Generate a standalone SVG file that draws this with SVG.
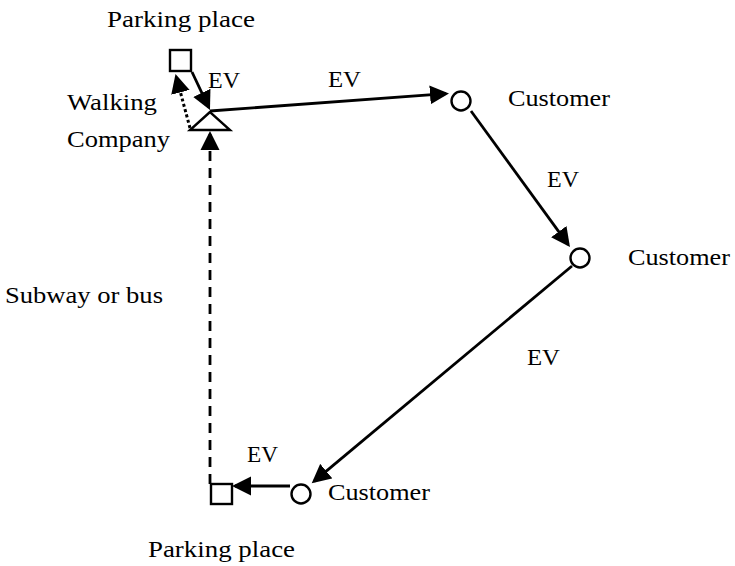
<svg xmlns="http://www.w3.org/2000/svg" width="735" height="566" viewBox="0 0 735 566">
<style>
  text { font-family: "Liberation Serif", "Times New Roman", serif; font-size: 24px; fill: #000; }
  .node { fill: #fff; stroke: #000; stroke-width: 2.4; }
  .edge { fill: none; stroke: #000; stroke-width: 2.8; }
  .dash { stroke-dasharray: 10 7; }
  .dot { stroke-width: 3; stroke-dasharray: 3 2.5; }
</style>
<defs>
  <marker id="arr" markerUnits="userSpaceOnUse" markerWidth="20" markerHeight="20" refX="16" refY="10" orient="auto">
    <path d="M0,0.5 L19,10 L0,19.5 Z" fill="#000"/>
  </marker>
</defs>
<rect width="735" height="566" fill="#fff"/>
<g id="connectors">
  <line class="edge" x1="192" y1="72" x2="208.7" y2="107.3" marker-end="url(#arr)"/>
  <line class="edge" x1="210" y1="111" x2="446" y2="93.7" marker-end="url(#arr)"/>
  <line class="edge" x1="471" y1="111" x2="568.2" y2="244.6" marker-end="url(#arr)"/>
  <line class="edge" x1="572" y1="266" x2="314" y2="481.4" marker-end="url(#arr)"/>
  <line class="edge" x1="290" y1="486" x2="235" y2="486" marker-end="url(#arr)"/>
  <line class="edge dash" x1="210" y1="484" x2="210" y2="134" marker-end="url(#arr)"/>
  <line class="edge dot" x1="190" y1="128" x2="176.3" y2="76.9" marker-end="url(#arr)"/>
</g>
<g id="parking-top">
  <rect class="node" x="170" y="50" width="21" height="21"/>
  <text x="107" y="27" textLength="148" lengthAdjust="spacingAndGlyphs">Parking place</text>
</g>
<g id="company">
  <polygon class="node" points="210,112 190,130 230,130"/>
  <text x="67" y="110" textLength="90" lengthAdjust="spacingAndGlyphs">Walking</text>
  <text x="67" y="147" textLength="103" lengthAdjust="spacingAndGlyphs">Company</text>
</g>
<g id="customer1">
  <circle class="node" cx="461" cy="101" r="9.5"/>
  <text x="508" y="106" textLength="102" lengthAdjust="spacingAndGlyphs">Customer</text>
</g>
<g id="customer2">
  <circle class="node" cx="580" cy="258" r="9.5"/>
  <text x="628" y="265" textLength="102" lengthAdjust="spacingAndGlyphs">Customer</text>
</g>
<g id="customer3">
  <circle class="node" cx="301" cy="494" r="9.5"/>
  <text x="328" y="500" textLength="102" lengthAdjust="spacingAndGlyphs">Customer</text>
</g>
<g id="parking-bottom">
  <rect class="node" x="211" y="484" width="21" height="20"/>
  <text x="148" y="557" textLength="147" lengthAdjust="spacingAndGlyphs">Parking place</text>
</g>
<g id="labels">
  <text x="208" y="88" textLength="32" lengthAdjust="spacingAndGlyphs">EV</text>
  <text x="328" y="87" textLength="33" lengthAdjust="spacingAndGlyphs">EV</text>
  <text x="547" y="187" textLength="32" lengthAdjust="spacingAndGlyphs">EV</text>
  <text x="527" y="365" textLength="33" lengthAdjust="spacingAndGlyphs">EV</text>
  <text x="247" y="462" textLength="31" lengthAdjust="spacingAndGlyphs">EV</text>
  <text x="5" y="303" textLength="158" lengthAdjust="spacingAndGlyphs">Subway or bus</text>
</g>
</svg>
